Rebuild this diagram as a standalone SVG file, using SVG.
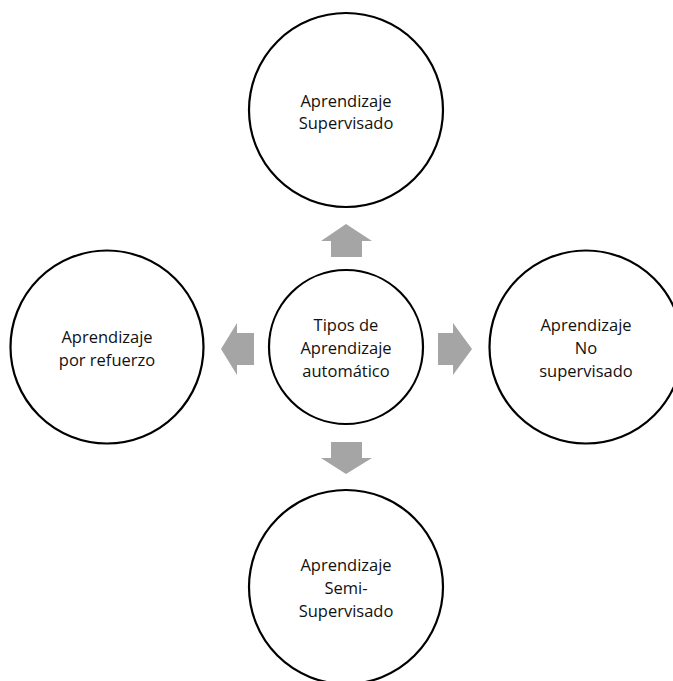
<svg xmlns="http://www.w3.org/2000/svg" width="673" height="681" viewBox="0 0 673 681">
<style>
.node circle{fill:#ffffff;stroke:#000000;stroke-width:2.2}
.node text{font-family:"Open Sans","Noto Sans","Liberation Sans",sans-serif;font-size:16.5px;fill:#111111;text-anchor:middle}
.arrow{fill:#a5a5a5;stroke:none}
</style>
<rect width="673" height="681" fill="#ffffff"/>
<g id="connectors">
<polygon class="arrow" points="346,224 372,241 362,241 362,257 331,257 331,241 321,241"/>
<polygon class="arrow" points="346,474 372,458 362,458 362,442 331,442 331,458 321,458"/>
<polygon class="arrow" points="221,349 237,323 237,333 254,333 254,365 237,365 237,375"/>
<polygon class="arrow" points="472,349 453,323 453,333 438,333 438,365 453,365 453,375"/>
</g>
<g id="node-center" class="node">
<circle cx="346" cy="347" r="77"/>
<text x="346" y="331">Tipos de</text>
<text x="346" y="354">Aprendizaje</text>
<text x="346" y="377">automático</text>
</g>
<g id="node-top" class="node">
<circle cx="346" cy="110" r="97"/>
<text x="346" y="107">Aprendizaje</text>
<text x="346" y="129">Supervisado</text>
</g>
<g id="node-left" class="node">
<circle cx="107" cy="347" r="96.5"/>
<text x="107" y="343">Aprendizaje</text>
<text x="107" y="366">por refuerzo</text>
</g>
<g id="node-right" class="node">
<circle cx="586" cy="347" r="96.5"/>
<text x="586" y="331">Aprendizaje</text>
<text x="586" y="354">No</text>
<text x="586" y="377">supervisado</text>
</g>
<g id="node-bottom" class="node">
<circle cx="346" cy="587" r="97"/>
<text x="346" y="571">Aprendizaje</text>
<text x="346" y="594">Semi-</text>
<text x="346" y="617">Supervisado</text>
</g>
</svg>
